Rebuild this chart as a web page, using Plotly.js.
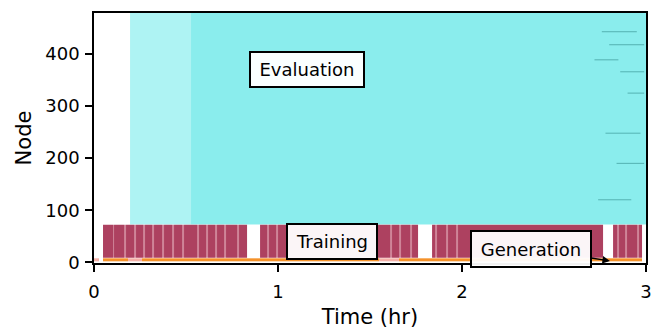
<!DOCTYPE html>
<html>
<head>
<meta charset="utf-8">
<script src="https://cdn.plot.ly/plotly-3.0.1.min.js"></script>
<style>html,body{margin:0;padding:0;background:#fff}#chart{width:653px;height:329px}</style>
</head>
<body>
<div id="chart"></div>
<script>
// ---- data (times in hours, nodes as node index) ----
const evalEdges = [0.196, 0.53, 3.0];      // evaluation time blocks
const evalShade = [1, 2];                   // 1 = sparse start, 2 = dense
const evalNodes = [72, 480];

const trainStart = [0.049, 0.902, 1.837, 2.82];
const trainEnd   = [0.832, 1.761, 2.766, 2.98];
const trainStripes = [0.106, 0.168, 0.223, 0.272, 0.321, 0.375, 0.429, 0.484,
                      0.565, 0.614, 0.663, 0.712, 0.783, 0.946, 0.995,
                      1.614, 1.663, 1.723, 1.859, 1.919, 1.973,
                      2.85, 2.89, 2.957];
const trainNodes = [9, 72];

const genStart = [0.0, 0.049, 0.185, 0.26, 1.55, 1.66];
const genEnd   = [0.025, 0.185, 0.26, 1.55, 1.66, 2.98];
const genKind  = [0, 1, 0, 1, 0, 1];        // 0 = pink, 1 = orange
const genNodes = [1.5, 7.5];

const slowStart = [2.76, 2.80, 2.72, 2.86, 2.90, 2.78, 2.84, 2.74];
const slowEnd   = [2.95, 2.99, 2.85, 2.99, 2.99, 2.97, 2.99, 2.92];
const slowNode  = [443, 418, 389, 366, 325, 248, 190, 120];

const xTicks = [0, 1, 2, 3];
const yTicks = [0, 100, 200, 300, 400];

// ---- build heatmap tables ----
const stripeW = 0.01;
const tEdges = [], tZ = [];
for (let i = 0; i < trainStart.length; i++) {
  if (i > 0) { tZ.push(null); }
  let pts = [trainStart[i]];
  let vals = [];
  trainStripes.filter(s => s > trainStart[i] && s < trainEnd[i]).forEach(s => {
    pts.push(s - stripeW / 2); vals.push(1);
    pts.push(s + stripeW / 2); vals.push(2);
  });
  pts.push(trainEnd[i]); vals.push(1);
  pts.forEach(p => tEdges.push(p));
  vals.forEach(v => tZ.push(v));
}

const gEdges = [], gZ = [];
for (let i = 0; i < genStart.length; i++) {
  if (i > 0 && genStart[i] > genEnd[i - 1] + 1e-9) { gZ.push(null); }
  if (i === 0 || genStart[i] > genEnd[i - 1] + 1e-9) gEdges.push(genStart[i]);
  gEdges.push(genEnd[i]);
  gZ.push(genKind[i]);
}

const base = {type: 'heatmap', showscale: false, hoverinfo: 'skip'};
const traces = [
  Object.assign({}, base, {
    x: evalEdges, y: evalNodes, z: [evalShade], zmin: 1, zmax: 2,
    colorscale: [[0, '#aef3f3'], [1, '#8aeded']]
  }),
  Object.assign({}, base, {
    x: tEdges, y: trainNodes, z: [tZ], zmin: 1, zmax: 2,
    colorscale: [[0, '#ad4160'], [1, '#cf8498']]
  }),
  Object.assign({}, base, {
    x: gEdges, y: genNodes, z: [gZ], zmin: 0, zmax: 1,
    colorscale: [[0, '#f4b0a8'], [1, '#f5922a']]
  })
];
for (let i = 0; i < slowNode.length; i++) {
  traces.push({type: 'scatter', mode: 'lines', x: [slowStart[i], slowEnd[i]],
    y: [slowNode[i], slowNode[i]], line: {color: 'rgba(40,130,130,0.55)', width: 1},
    hoverinfo: 'skip', showlegend: false});
}

const font = 'DejaVu Sans, sans-serif';
const layout = {
  width: 653, height: 329,
  margin: {l: 94, r: 7, t: 13, b: 66},
  paper_bgcolor: '#fff', plot_bgcolor: '#fff',
  showlegend: false,
  font: {family: font, color: '#000'},
  xaxis: {
    range: [0, 3], tickvals: xTicks, ticktext: xTicks.map(String),
    ticks: 'outside', ticklen: 7, tickwidth: 1.6, tickcolor: '#000',
    ticklabelstandoff: 5,
    showline: true, linecolor: '#000', linewidth: 1.8, mirror: true,
    showgrid: false, zeroline: false,
    tickfont: {family: font, size: 18, color: '#000'},
    title: {text: 'Time (hr)', font: {family: font, size: 21, color: '#000'}, standoff: 16}
  },
  yaxis: {
    range: [-1.5, 479], tickvals: yTicks, ticktext: yTicks.map(String),
    ticks: 'outside', ticklen: 7, tickwidth: 1.6, tickcolor: '#000',
    ticklabelstandoff: 2,
    showline: true, linecolor: '#000', linewidth: 1.8, mirror: true,
    showgrid: false, zeroline: false,
    tickfont: {family: font, size: 18, color: '#000'},
    title: {text: 'Node', font: {family: font, size: 21, color: '#000'}, standoff: 8}
  },
  annotations: [
    {x: 1.158, y: 370, xref: 'x', yref: 'y', text: 'Evaluation', showarrow: false,
     font: {family: font, size: 18, color: '#000'}, bgcolor: 'rgba(255,255,255,0.96)',
     bordercolor: '#000', borderwidth: 2, borderpad: 1, width: 110, height: 31},
    {x: 1.293, y: 40, xref: 'x', yref: 'y', text: 'Training', showarrow: false,
     font: {family: font, size: 18, color: '#000'}, bgcolor: 'rgba(255,255,255,0.95)',
     bordercolor: '#000', borderwidth: 2, borderpad: 1, width: 86, height: 31},
    {x: 2.804, y: 2.5, xref: 'x', yref: 'y', ax: 2.375, ay: 25.6, axref: 'x', ayref: 'y',
     text: 'Generation', showarrow: true, arrowhead: 2, arrowsize: 1, arrowwidth: 1.5,
     arrowcolor: '#000',
     font: {family: font, size: 18, color: '#000'}, bgcolor: 'rgba(255,255,255,0.95)',
     bordercolor: '#000', borderwidth: 2, borderpad: 1, width: 116, height: 32}
  ]
};

Plotly.newPlot('chart', traces, layout, {staticPlot: true, displayModeBar: false});
</script>
</body>
</html>
